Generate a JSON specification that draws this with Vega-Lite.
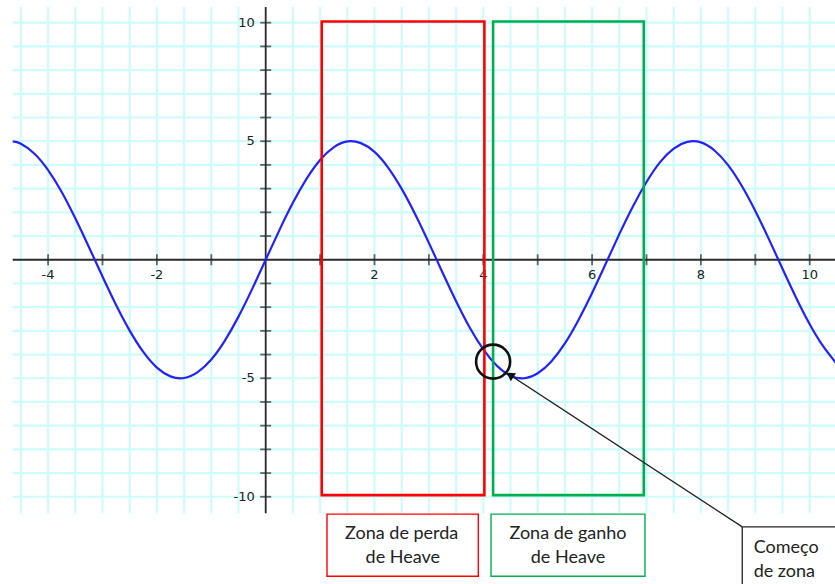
{
  "$schema": "https://vega.github.io/schema/vega-lite/v6.json",
  "autosize": {"type": "fit", "contains": "padding"},
  "width": 835,
  "height": 584,
  "padding": 0,
  "background": "white",
  "config": {"view": {"stroke": null}},
  "datasets": {
    "curve": [
      {"x": -4.65, "y": 4.99}, {"x": -4.5, "y": 4.89}, {"x": -4.25, "y": 4.47}, {"x": -4.0, "y": 3.78},
      {"x": -3.75, "y": 2.86}, {"x": -3.5, "y": 1.75}, {"x": -3.25, "y": 0.54}, {"x": -3.0, "y": -0.71},
      {"x": -2.75, "y": -1.91}, {"x": -2.5, "y": -2.99}, {"x": -2.25, "y": -3.89}, {"x": -2.0, "y": -4.55},
      {"x": -1.75, "y": -4.92}, {"x": -1.5, "y": -4.99}, {"x": -1.25, "y": -4.74}, {"x": -1.0, "y": -4.21},
      {"x": -0.75, "y": -3.41}, {"x": -0.5, "y": -2.4}, {"x": -0.25, "y": -1.24}, {"x": 0.0, "y": 0.0},
      {"x": 0.25, "y": 1.24}, {"x": 0.5, "y": 2.4}, {"x": 0.75, "y": 3.41}, {"x": 1.0, "y": 4.21},
      {"x": 1.25, "y": 4.74}, {"x": 1.5, "y": 4.99}, {"x": 1.75, "y": 4.92}, {"x": 2.0, "y": 4.55},
      {"x": 2.25, "y": 3.89}, {"x": 2.5, "y": 2.99}, {"x": 2.75, "y": 1.91}, {"x": 3.0, "y": 0.71},
      {"x": 3.25, "y": -0.54}, {"x": 3.5, "y": -1.75}, {"x": 3.75, "y": -2.86}, {"x": 4.0, "y": -3.78},
      {"x": 4.25, "y": -4.47}, {"x": 4.5, "y": -4.89}, {"x": 4.75, "y": -5.0}, {"x": 5.0, "y": -4.79},
      {"x": 5.25, "y": -4.29}, {"x": 5.5, "y": -3.53}, {"x": 5.75, "y": -2.54}, {"x": 6.0, "y": -1.4},
      {"x": 6.25, "y": -0.17}, {"x": 6.5, "y": 1.08}, {"x": 6.75, "y": 2.25}, {"x": 7.0, "y": 3.28},
      {"x": 7.25, "y": 4.12}, {"x": 7.5, "y": 4.69}, {"x": 7.75, "y": 4.97}, {"x": 8.0, "y": 4.95},
      {"x": 8.25, "y": 4.61}, {"x": 8.5, "y": 3.99}, {"x": 8.75, "y": 3.12}, {"x": 9.0, "y": 2.06},
      {"x": 9.25, "y": 0.87}, {"x": 9.5, "y": -0.38}, {"x": 9.75, "y": -1.6}, {"x": 10.0, "y": -2.72},
      {"x": 10.25, "y": -3.66}, {"x": 10.5, "y": -4.4}
    ],
    "vgrid": [
      {"x": -4.5}, {"x": -4.0}, {"x": -3.5}, {"x": -3.0}, {"x": -2.5}, {"x": -2.0}, {"x": -1.5}, {"x": -1.0},
      {"x": -0.5}, {"x": 0.5}, {"x": 1.0}, {"x": 1.5}, {"x": 2.0}, {"x": 2.5}, {"x": 3.0}, {"x": 3.5},
      {"x": 4.0}, {"x": 4.5}, {"x": 5.0}, {"x": 5.5}, {"x": 6.0}, {"x": 6.5}, {"x": 7.0}, {"x": 7.5},
      {"x": 8.0}, {"x": 8.5}, {"x": 9.0}, {"x": 9.5}, {"x": 10.0}
    ],
    "hgrid": [
      {"y": -10}, {"y": -9}, {"y": -8}, {"y": -7}, {"y": -6}, {"y": -5}, {"y": -4}, {"y": -3}, {"y": -2}, {"y": -1},
      {"y": 1}, {"y": 2}, {"y": 3}, {"y": 4}, {"y": 5}, {"y": 6}, {"y": 7}, {"y": 8}, {"y": 9}, {"y": 10}
    ],
    "xticks": [
      {"x": -4, "label": "-4"}, {"x": -3, "label": ""}, {"x": -2, "label": "-2"}, {"x": -1, "label": ""},
      {"x": 1, "label": ""}, {"x": 2, "label": "2"}, {"x": 3, "label": ""}, {"x": 4, "label": "4"},
      {"x": 5, "label": ""}, {"x": 6, "label": "6"}, {"x": 7, "label": ""}, {"x": 8, "label": "8"},
      {"x": 9, "label": ""}, {"x": 10, "label": "10"}
    ],
    "yticks": [
      {"y": -10, "label": "-10"}, {"y": -9, "label": ""}, {"y": -8, "label": ""}, {"y": -7, "label": ""},
      {"y": -6, "label": ""}, {"y": -5, "label": "-5"}, {"y": -4, "label": ""}, {"y": -3, "label": ""},
      {"y": -2, "label": ""}, {"y": -1, "label": ""}, {"y": 1, "label": ""}, {"y": 2, "label": ""},
      {"y": 3, "label": ""}, {"y": 4, "label": ""}, {"y": 5, "label": "5"}, {"y": 6, "label": ""},
      {"y": 7, "label": ""}, {"y": 8, "label": ""}, {"y": 9, "label": ""}, {"y": 10, "label": "10"}
    ],
    "axes": [
      {"axis": "x", "x1": -4.65, "x2": 10.6, "y1": 0, "y2": 0},
      {"axis": "y", "x1": 0, "x2": 0, "y1": 10.66, "y2": -10.7}
    ],
    "zones": [
      {"zone": "perda", "x1": 1.03, "x2": 4.02, "y1": 10.05, "y2": -9.93},
      {"zone": "ganho", "x1": 4.18, "x2": 6.95, "y1": 10.05, "y2": -9.93}
    ],
    "labelboxes": [
      {"zone": "perda", "x1": 1.127, "x2": 3.908, "y1": -10.73, "y2": -13.35},
      {"zone": "ganho", "x1": 4.142, "x2": 6.972, "y1": -10.73, "y2": -13.35}
    ],
    "labeltext": [
      {"text": "Zona de perda", "x": 2.5, "y": -11.8},
      {"text": "de Heave", "x": 2.52, "y": -12.81},
      {"text": "Zona de ganho", "x": 5.557, "y": -11.8},
      {"text": "de Heave", "x": 5.557, "y": -12.81}
    ],
    "comecobox": [
      {"x1": 8.76, "x2": 12.0, "y1": -11.27, "y2": -16.0}
    ],
    "comecotext": [
      {"text": "Começo", "x": 8.97, "y": -12.38},
      {"text": "de zona", "x": 8.97, "y": -13.39}
    ],
    "marker": [{"x": 4.18, "y": -4.3}],
    "arrow": [{"x1": 8.76, "y1": -11.27, "x2": 4.45, "y2": -4.8}],
    "arrowhead": [{"x": 4.49, "y": -4.86}]
  },
  "layer": [
    {
      "data": {"name": "vgrid"},
      "mark": {"type": "rule", "color": "#cdfcfc", "strokeWidth": 2.2, "clip": true},
      "encoding": {
        "x": {"field": "x", "type": "quantitative", "scale": {"domain": [-4.884, 10.465], "nice": false, "zero": false}, "axis": null},
        "y": {"datum": 10.66, "type": "quantitative", "scale": {"domain": [-13.68, 10.958], "nice": false, "zero": false}, "axis": null},
        "y2": {"datum": -10.7}
      }
    },
    {
      "data": {"name": "hgrid"},
      "mark": {"type": "rule", "color": "#cdfcfc", "strokeWidth": 2.2, "clip": true},
      "encoding": {
        "y": {"field": "y", "type": "quantitative"},
        "x": {"datum": -4.65, "type": "quantitative"},
        "x2": {"datum": 10.6}
      }
    },
    {
      "data": {"name": "axes"},
      "mark": {"type": "rule", "color": "#2a2a2a", "strokeWidth": 1.8, "clip": true},
      "encoding": {
        "x": {"field": "x1", "type": "quantitative"},
        "x2": {"field": "x2"},
        "y": {"field": "y1", "type": "quantitative"},
        "y2": {"field": "y2"}
      }
    },
    {
      "data": {"name": "xticks"},
      "mark": {"type": "tick", "orient": "vertical", "color": "#2a2a2a", "size": 11, "thickness": 1.8, "clip": true},
      "encoding": {
        "x": {"field": "x", "type": "quantitative"},
        "y": {"datum": 0, "type": "quantitative"}
      }
    },
    {
      "data": {"name": "yticks"},
      "mark": {"type": "tick", "orient": "horizontal", "color": "#2a2a2a", "size": 11, "thickness": 1.8, "clip": true},
      "encoding": {
        "y": {"field": "y", "type": "quantitative"},
        "x": {"datum": 0, "type": "quantitative"}
      }
    },
    {
      "data": {"name": "xticks"},
      "mark": {"type": "text", "font": "DejaVu Sans", "fontSize": 13, "color": "#222222", "baseline": "middle", "align": "center", "dy": 15, "clip": true},
      "encoding": {
        "x": {"field": "x", "type": "quantitative"},
        "y": {"datum": 0, "type": "quantitative"},
        "text": {"field": "label"}
      }
    },
    {
      "data": {"name": "yticks"},
      "mark": {"type": "text", "font": "DejaVu Sans", "fontSize": 13, "color": "#222222", "baseline": "middle", "align": "right", "dx": -11, "clip": true},
      "encoding": {
        "y": {"field": "y", "type": "quantitative"},
        "x": {"datum": 0, "type": "quantitative"},
        "text": {"field": "label"}
      }
    },
    {
      "data": {"name": "curve"},
      "mark": {"type": "line", "color": "#2222ff", "strokeWidth": 2.2, "interpolate": "natural", "clip": true},
      "encoding": {
        "x": {"field": "x", "type": "quantitative"},
        "y": {"field": "y", "type": "quantitative"}
      }
    },
    {
      "data": {"name": "zones"},
      "mark": {"type": "rect", "filled": false, "strokeWidth": 2.6, "clip": true},
      "encoding": {
        "x": {"field": "x1", "type": "quantitative"},
        "x2": {"field": "x2"},
        "y": {"field": "y1", "type": "quantitative"},
        "y2": {"field": "y2"},
        "stroke": {"field": "zone", "type": "nominal", "scale": {"domain": ["perda", "ganho"], "range": ["#ff0000", "#00b050"]}, "legend": null}
      }
    },
    {
      "data": {"name": "labelboxes"},
      "mark": {"type": "rect", "filled": false, "strokeWidth": 1.4, "clip": true},
      "encoding": {
        "x": {"field": "x1", "type": "quantitative"},
        "x2": {"field": "x2"},
        "y": {"field": "y1", "type": "quantitative"},
        "y2": {"field": "y2"},
        "stroke": {"field": "zone", "type": "nominal", "legend": null}
      }
    },
    {
      "data": {"name": "labeltext"},
      "mark": {"type": "text", "font": "Lato", "fontSize": 18, "color": "#222222", "align": "center", "baseline": "alphabetic", "clip": true},
      "encoding": {
        "x": {"field": "x", "type": "quantitative"},
        "y": {"field": "y", "type": "quantitative"},
        "text": {"field": "text"}
      }
    },
    {
      "data": {"name": "comecobox"},
      "mark": {"type": "rect", "filled": false, "stroke": "#222222", "strokeWidth": 1.3, "clip": true},
      "encoding": {
        "x": {"field": "x1", "type": "quantitative"},
        "x2": {"field": "x2"},
        "y": {"field": "y1", "type": "quantitative"},
        "y2": {"field": "y2"}
      }
    },
    {
      "data": {"name": "comecotext"},
      "mark": {"type": "text", "font": "Lato", "fontSize": 18, "color": "#222222", "align": "left", "baseline": "alphabetic", "clip": true},
      "encoding": {
        "x": {"field": "x", "type": "quantitative"},
        "y": {"field": "y", "type": "quantitative"},
        "text": {"field": "text"}
      }
    },
    {
      "data": {"name": "marker"},
      "mark": {"type": "point", "shape": "circle", "filled": false, "stroke": "#111111", "strokeWidth": 2.6, "size": 1156, "opacity": 1, "clip": true},
      "encoding": {
        "x": {"field": "x", "type": "quantitative"},
        "y": {"field": "y", "type": "quantitative"}
      }
    },
    {
      "data": {"name": "arrow"},
      "mark": {"type": "rule", "color": "#222222", "strokeWidth": 1.3, "clip": true},
      "encoding": {
        "x": {"field": "x1", "type": "quantitative"},
        "x2": {"field": "x2"},
        "y": {"field": "y1", "type": "quantitative"},
        "y2": {"field": "y2"}
      }
    },
    {
      "data": {"name": "arrowhead"},
      "mark": {"type": "point", "shape": "triangle-up", "filled": true, "color": "#111111", "size": 90, "angle": 303, "opacity": 1, "clip": true},
      "encoding": {
        "x": {"field": "x", "type": "quantitative"},
        "y": {"field": "y", "type": "quantitative"}
      }
    }
  ]
}
